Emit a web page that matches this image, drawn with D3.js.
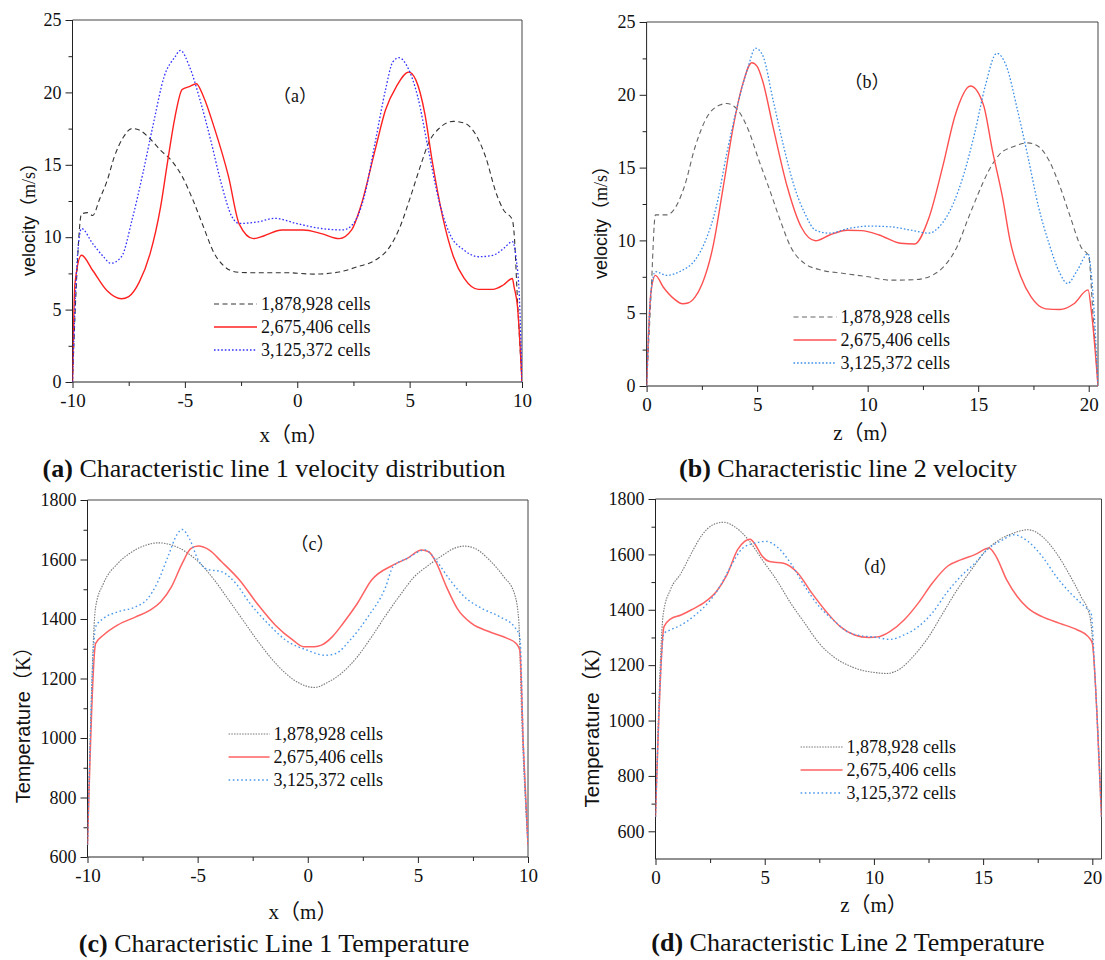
<!DOCTYPE html>
<html>
<head>
<meta charset="utf-8">
<script src="https://cdn.jsdelivr.net/npm/d3@7"></script>
<style>
  html, body { margin: 0; padding: 0; background: #fff; }
  svg { display: block; }
</style>
</head>
<body>
<svg id="fig" width="1105" height="960"></svg>
<script>
// ---- Series labels (mesh sizes) ----
const seriesLabels = ["1,878,928 cells", "2,675,406 cells", "3,125,372 cells"];

// ---- Tick values ----
const xTicksLine1 = [-10, -5, 0, 5, 10];
const zTicksLine2 = [0, 5, 10, 15, 20];
const velTicks = [0, 5, 10, 15, 20, 25];
const tempTicks = [600, 800, 1000, 1200, 1400, 1600, 1800];
const tempTicksD = [600, 800, 1000, 1200, 1400, 1600, 1800];

// ---- (a) velocity along characteristic line 1: [x (m), v (m/s)] ----
const velL1Coarse = [[-10,0],[-9.85,6],[-9.6,11.6],[-9.33,11.7],[-9.1,11.5],[-8.8,12.6],[-8.46,13.9],[-8.14,15.55],[-7.74,16.9],[-7.35,17.5],[-7.03,17.4],[-6.55,16.8],[-6.08,16.0],[-5.6,15.3],[-5.12,14.2],[-4.65,12.6],[-4.17,10.7],[-3.7,8.9],[-3.22,7.95],[-2.74,7.6],[-2.1,7.55],[-0.52,7.55],[0.75,7.45],[1.87,7.6],[2.66,7.95],[3.46,8.4],[4.1,9.3],[4.57,10.7],[5.04,12.8],[5.52,15.1],[5.84,16.5],[6.3,17.5],[6.95,18.0],[7.4,17.9],[7.9,17.2],[8.38,15.55],[8.86,13.0],[9.17,11.9],[9.57,11.2],[9.65,10.25],[9.8,5.6],[10,0]];
const velL1Mid = [[-10,0],[-9.89,6.8],[-9.6,8.75],[-9.1,7.7],[-8.46,6.3],[-7.82,5.75],[-7.5,5.9],[-7.03,6.9],[-6.55,8.85],[-6.08,12.1],[-5.76,15.3],[-5.44,18.3],[-5.12,20.2],[-4.8,20.4],[-4.49,20.6],[-4.17,19.7],[-3.7,17.6],[-3.06,14.2],[-2.58,10.9],[-1.95,9.9],[-1.47,10.1],[-0.68,10.5],[0.28,10.5],[1.07,10.25],[1.87,9.9],[2.42,10.5],[2.82,12.1],[3.46,16.0],[3.93,18.8],[4.41,20.4],[4.96,21.4],[5.28,20.85],[5.68,18.5],[6.0,15.3],[6.47,11.4],[6.95,8.65],[7.43,7.15],[8.06,6.4],[8.7,6.4],[9.17,6.7],[9.57,7.15],[9.65,6.55],[9.8,5.2],[10,0]];
const velL1Fine = [[-10,0],[-9.81,7.95],[-9.6,10.6],[-9.1,9.55],[-8.62,8.65],[-8.3,8.2],[-7.82,8.65],[-7.35,11.2],[-6.87,14.4],[-6.4,17.85],[-5.92,21.1],[-5.44,22.45],[-5.2,22.9],[-4.8,21.8],[-4.33,19.5],[-3.85,16.7],[-3.38,13.7],[-2.9,11.4],[-2.58,10.95],[-1.79,11.05],[-1.0,11.3],[-0.04,10.95],[1.07,10.6],[2.03,10.5],[2.5,10.95],[2.98,12.8],[3.46,16.5],[3.93,20.2],[4.25,22.1],[4.53,22.4],[4.89,21.8],[5.36,19.7],[5.84,16.0],[6.3,12.55],[6.78,10.25],[7.43,9.1],[8.06,8.65],[8.7,8.75],[9.17,9.2],[9.57,9.7],[9.73,8.65],[9.89,5.6],[10,0]];

// ---- (b) velocity along characteristic line 2: [z (m), v (m/s)] ----
const velL2Coarse = [[0,0],[0.19,5.9],[0.4,11.75],[0.91,11.75],[1.23,12.1],[1.71,13.7],[2.19,16.4],[2.67,18.3],[3.31,19.3],[3.63,19.4],[4.1,19.0],[4.6,17.6],[5.08,15.5],[5.56,13.5],[6.04,11.4],[6.52,9.55],[7.16,8.4],[7.8,8.0],[8.92,7.73],[10.04,7.5],[11.0,7.27],[12.12,7.3],[12.92,7.6],[13.56,8.4],[14.04,9.55],[14.52,11.4],[15.0,13.2],[15.48,14.8],[15.96,15.9],[16.6,16.45],[17.25,16.7],[17.73,16.45],[18.2,15.5],[18.7,13.7],[19.17,11.6],[19.65,9.55],[20.0,8.9],[20.2,4.75],[20.42,0]];
const velL2Mid = [[0,0],[0.19,6.35],[0.4,7.6],[0.75,6.8],[1.23,6.0],[1.63,5.65],[1.87,5.7],[2.19,6.1],[2.51,7.0],[3.0,9.55],[3.47,13.7],[3.95,18.05],[4.36,20.8],[4.76,22.2],[5.0,21.95],[5.24,21.0],[5.72,17.8],[6.36,13.7],[7.0,10.9],[7.64,9.98],[8.28,10.37],[9.08,10.7],[9.72,10.67],[10.52,10.37],[11.48,9.8],[12.12,9.75],[12.76,11.5],[13.4,15.1],[13.96,18.6],[14.65,20.6],[15.24,19.3],[15.64,16.2],[16.12,12.8],[16.44,10.0],[16.93,7.5],[17.4,6.1],[18.05,5.3],[18.7,5.25],[19.33,5.65],[19.97,6.6],[20.13,5.0],[20.42,0]];
const velL2Fine = [[0,0],[0.19,6.35],[0.4,7.85],[0.91,7.6],[1.55,7.9],[2.19,8.65],[2.67,10.0],[3.15,12.3],[3.63,16.0],[4.1,19.2],[4.6,21.95],[4.92,23.2],[5.24,22.75],[5.72,19.65],[6.2,16.45],[6.68,13.7],[7.16,11.85],[7.64,10.7],[8.28,10.5],[9.08,10.8],[10.04,10.98],[11.0,10.94],[11.96,10.7],[12.76,10.5],[13.24,10.94],[13.88,12.55],[14.36,14.6],[14.84,17.36],[15.32,20.6],[15.84,22.85],[16.28,21.95],[16.77,19.0],[17.25,15.75],[17.73,12.3],[18.2,9.8],[18.7,7.73],[19.04,7.04],[19.49,7.96],[19.97,9.1],[20.13,7.5],[20.42,0]];

// ---- (c) temperature along characteristic line 1: [x (m), T (K)] ----
const tempL1Coarse = [[-10,640],[-9.63,1441],[-9.27,1520],[-8.62,1587],[-7.97,1626],[-7.32,1649],[-6.76,1656],[-6.19,1649],[-5.54,1626],[-4.89,1587],[-4.24,1531],[-3.59,1464],[-2.94,1396],[-2.3,1329],[-1.65,1267],[-1.0,1217],[-0.35,1183],[0.3,1170],[0.95,1189],[1.6,1222],[2.25,1273],[2.9,1340],[3.55,1413],[4.19,1480],[4.84,1542],[5.49,1581],[6.14,1615],[6.63,1637],[7.11,1645],[7.6,1637],[8.25,1598],[8.9,1542],[9.38,1486],[9.58,1396],[9.71,1082],[10,640]];
const tempL1Mid = [[-10,640],[-9.63,1318],[-9.27,1346],[-8.62,1380],[-7.81,1407],[-7.16,1430],[-6.67,1458],[-6.19,1508],[-5.7,1587],[-5.3,1637],[-4.97,1645],[-4.48,1632],[-3.92,1593],[-3.1,1531],[-2.3,1452],[-1.48,1380],[-0.67,1329],[-0.19,1307],[0.3,1307],[0.62,1312],[1.11,1340],[1.6,1385],[2.25,1452],[2.9,1531],[3.87,1581],[4.52,1604],[5.17,1632],[5.49,1626],[5.81,1593],[6.3,1508],[6.79,1435],[7.44,1385],[8.25,1357],[9.06,1335],[9.46,1318],[9.63,1295],[9.79,970],[10,640]];
const tempL1Fine = [[-10,640],[-9.63,1374],[-9.27,1402],[-8.62,1424],[-7.81,1441],[-7.32,1464],[-6.84,1520],[-6.35,1609],[-5.95,1682],[-5.7,1701],[-5.38,1671],[-4.97,1598],[-4.57,1567],[-3.92,1559],[-3.27,1520],[-2.62,1452],[-1.81,1385],[-1.0,1329],[-0.02,1295],[0.79,1278],[1.27,1284],[1.92,1329],[2.73,1407],[3.54,1508],[3.87,1576],[4.52,1604],[5.33,1632],[5.81,1598],[6.46,1531],[7.11,1475],[7.92,1435],[8.73,1407],[9.38,1374],[9.63,1340],[9.79,970],[10,640]];

// ---- (d) temperature along characteristic line 2: [z (m), T (K)] ----
const tempL2Coarse = [[0,652],[0.36,1388],[0.68,1472],[1.17,1532],[1.65,1605],[2.14,1671],[2.63,1707],[3.11,1716],[3.6,1701],[4.25,1653],[4.89,1580],[5.54,1508],[6.19,1424],[6.84,1351],[7.49,1279],[8.14,1231],[8.78,1201],[9.43,1182],[10.08,1173],[10.57,1170],[11.22,1188],[11.86,1237],[12.51,1303],[13.16,1388],[13.81,1472],[14.46,1544],[15.1,1611],[15.75,1653],[16.4,1677],[17.05,1689],[17.7,1665],[18.35,1605],[19.0,1520],[19.48,1448],[19.89,1375],[20.13,1146],[20.42,664]];
const tempL2Mid = [[0,652],[0.39,1339],[0.68,1366],[1.17,1381],[1.65,1400],[2.3,1430],[2.79,1466],[3.27,1526],[3.76,1617],[4.08,1647],[4.33,1655],[4.57,1635],[4.89,1593],[5.22,1574],[5.87,1568],[6.52,1532],[7.16,1460],[7.81,1394],[8.46,1339],[9.11,1309],[9.76,1300],[10.24,1303],[10.73,1321],[11.38,1363],[12.03,1424],[12.67,1496],[13.4,1559],[13.97,1580],[14.62,1599],[15.27,1623],[15.59,1593],[16.08,1508],[16.56,1448],[17.05,1406],[17.7,1375],[18.51,1351],[19.32,1327],[19.81,1303],[20.0,1279],[20.21,1026],[20.42,652]];
const tempL2Fine = [[0,652],[0.39,1315],[0.68,1327],[1.17,1345],[1.82,1381],[2.46,1430],[2.95,1484],[3.44,1556],[4.0,1623],[4.57,1641],[5.06,1647],[5.54,1629],[6.19,1568],[6.84,1484],[7.49,1412],[8.14,1363],[8.78,1321],[9.43,1306],[10.08,1301],[10.73,1293],[11.38,1309],[12.03,1339],[12.67,1388],[13.32,1460],[13.97,1520],[14.62,1568],[15.27,1623],[15.91,1653],[16.4,1671],[17.05,1647],[17.7,1593],[18.35,1520],[19.0,1460],[19.64,1412],[19.94,1388],[20.13,1146],[20.42,652]];

const SERIF = '"Liberation Serif", "Times New Roman", serif';
const SERIF_CJK = '"Liberation Serif", "Noto Sans CJK SC", serif';
const SANS = '"Liberation Sans", Arial, sans-serif';

const svg = d3.select("#fig");

function drawPanel(p) {
  const g = svg.append("g");
  const x = d3.scaleLinear().domain(p.xDomain).range([p.left, p.right]);
  const y = d3.scaleLinear().domain(p.yDomain).range([p.bottom, p.top]);

  const clipId = "clip-" + p.id;
  svg.append("clipPath").attr("id", clipId)
    .append("rect").attr("x", p.left).attr("y", p.top - 2)
    .attr("width", p.right - p.left).attr("height", p.bottom - p.top + 2);

  // frame: top and right edges
  g.append("path")
    .attr("d", `M${p.left},${p.top}H${p.right}V${p.bottom}`)
    .attr("fill", "none").attr("stroke", "#444").attr("stroke-width", 1);

  // bottom axis with minor ticks
  const xAxis = d3.axisBottom(x).tickValues(p.xTicks).tickSize(6).tickPadding(4)
    .tickFormat(d => String(d));
  const gx = g.append("g").attr("transform", `translate(0,${p.bottom})`).call(xAxis);
  gx.select(".domain").attr("d", `M${p.left},0H${p.right}`).attr("stroke", "#222");
  gx.selectAll(".tick line").attr("stroke", "#222");
  gx.selectAll(".tick text")
    .style("font-family", SERIF).style("font-size", "19px").attr("fill", "#111")
    .attr("dy", "0.8em");
  g.append("g").attr("transform", `translate(0,${p.bottom})`)
    .call(d3.axisBottom(x).tickValues(p.xMinor).tickSize(4).tickFormat(""))
    .call(s => s.select(".domain").remove())
    .selectAll(".tick line").attr("stroke", "#222");

  // left axis with minor ticks
  const yAxis = d3.axisLeft(y).tickValues(p.yTicks).tickSize(7).tickPadding(4)
    .tickFormat(d => String(d));
  const gy = g.append("g").attr("transform", `translate(${p.left},0)`).call(yAxis);
  gy.select(".domain").attr("d", `M0,${p.bottom}V${p.top}`).attr("stroke", "#222");
  gy.selectAll(".tick line").attr("stroke", "#222");
  gy.selectAll(".tick text")
    .style("font-family", SERIF).style("font-size", "18px").attr("fill", "#111");
  g.append("g").attr("transform", `translate(${p.left},0)`)
    .call(d3.axisLeft(y).tickValues(p.yMinor).tickSize(4).tickFormat(""))
    .call(s => s.select(".domain").remove())
    .selectAll(".tick line").attr("stroke", "#222");

  // data lines
  const line = d3.line().x(d => x(d[0])).y(d => y(d[1])).curve(d3.curveMonotoneX);
  const lines = g.append("g").attr("clip-path", `url(#${clipId})`);
  p.series.forEach((s, i) => {
    lines.append("path").datum(s)
      .attr("d", line)
      .attr("fill", "none")
      .attr("stroke", p.styles[i].color)
      .attr("stroke-width", p.styles[i].width)
      .attr("stroke-dasharray", p.styles[i].dash);
  });

  // legend
  const lg = g.append("g");
  seriesLabels.forEach((lab, i) => {
    const yy = p.legend.y + i * p.legend.step;
    lg.append("line")
      .attr("x1", p.legend.x).attr("x2", p.legend.x + p.legend.len)
      .attr("y1", yy).attr("y2", yy)
      .attr("stroke", p.styles[i].color)
      .attr("stroke-width", p.styles[i].width)
      .attr("stroke-dasharray", p.styles[i].dash);
    lg.append("text")
      .attr("x", p.legend.x + p.legend.len + 4).attr("y", yy).attr("dy", "0.35em")
      .style("font-family", SERIF).style("font-size", "18px").attr("fill", "#111")
      .text(lab);
  });

  // panel tag inside the plot
  g.append("text")
    .attr("x", p.tag.x).attr("y", p.tag.y).attr("dy", "0.35em")
    .attr("text-anchor", "middle")
    .style("font-family", SERIF_CJK)
    .style("font-size", "18px").attr("fill", "#111")
    .text(p.tag.text);

  // y-axis title
  const yt = g.append("text")
    .attr("transform", `translate(${p.yTitle.x},${p.yTitle.y}) rotate(-90)`)
    .attr("text-anchor", "middle").attr("dy", "0.35em")
    .style("font-size", p.yTitle.size + "px").attr("fill", "#111");
  yt.append("tspan").style("font-family", SANS).text(p.yTitle.main);
  yt.append("tspan").style("font-family", SERIF_CJK).text(p.yTitle.unit);

  // x-axis title
  g.append("text")
    .attr("x", p.xTitle.x).attr("y", p.xTitle.y).attr("dy", "0.35em")
    .attr("text-anchor", "middle")
    .style("font-family", SERIF_CJK)
    .style("font-size", "21px").attr("fill", "#111")
    .text(p.xTitle.text);

  // caption
  const cap = g.append("text")
    .attr("x", p.caption.x).attr("y", p.caption.y).attr("dy", "0.35em")
    .attr("text-anchor", "middle")
    .style("font-family", SERIF)
    .style("font-size", "26px").attr("fill", "#111");
  cap.append("tspan").style("font-weight", "bold").text(p.caption.tag);
  cap.append("tspan").text(" " + p.caption.text);
}

const halfTicks = (a, b, step) => d3.range(a + step / 2, b, step);

drawPanel({
  id: "a", left: 72.5, right: 522, top: 20, bottom: 382,
  xDomain: [-10, 10], yDomain: [0, 25],
  xTicks: xTicksLine1, xMinor: halfTicks(-10, 10, 5),
  yTicks: velTicks, yMinor: halfTicks(0, 25, 5),
  series: [velL1Coarse, velL1Mid, velL1Fine],
  styles: [
    { color: "#333", width: 1.1, dash: "5,3.5" },
    { color: "#ff2020", width: 1.4, dash: null },
    { color: "#3030ff", width: 1.3, dash: "1.6,2" }
  ],
  legend: { x: 214, y: 304, step: 23, len: 43 },
  tag: { x: 295, y: 96, text: "（a）" },
  yTitle: { x: 29, y: 215, size: 18, main: "velocity", unit: "（m/s）" },
  xTitle: { x: 294, y: 435, text: "x（m）" },
  caption: { x: 274, y: 468, tag: "(a)", text: "Characteristic line 1 velocity distribution" }
});

drawPanel({
  id: "b", left: 646.6, right: 1098, top: 22, bottom: 386,
  xDomain: [0, 20.42], yDomain: [0, 25],
  xTicks: zTicksLine2, xMinor: halfTicks(0, 20, 5),
  yTicks: velTicks, yMinor: halfTicks(0, 25, 5),
  series: [velL2Coarse, velL2Mid, velL2Fine],
  styles: [
    { color: "#666", width: 1.1, dash: "5,3.5" },
    { color: "#ff5050", width: 1.4, dash: null },
    { color: "#3a8ee8", width: 1.3, dash: "1.6,2" }
  ],
  legend: { x: 793.5, y: 317, step: 23, len: 43 },
  tag: { x: 867, y: 82, text: "（b）" },
  yTitle: { x: 601, y: 218, size: 18, main: "velocity", unit: "（m/s）" },
  xTitle: { x: 867, y: 433, text: "z（m）" },
  caption: { x: 848, y: 468, tag: "(b)", text: "Characteristic line 2 velocity" }
});

drawPanel({
  id: "c", left: 87.5, right: 528, top: 500, bottom: 857,
  xDomain: [-10, 10], yDomain: [600, 1800],
  xTicks: xTicksLine1, xMinor: halfTicks(-10, 10, 5),
  yTicks: tempTicks, yMinor: halfTicks(600, 1800, 200),
  series: [tempL1Coarse, tempL1Mid, tempL1Fine],
  styles: [
    { color: "#777", width: 1.1, dash: "1.5,1.2" },
    { color: "#ff6262", width: 1.5, dash: null },
    { color: "#4a98ea", width: 1.4, dash: "1.6,2.6" }
  ],
  legend: { x: 228.6, y: 734, step: 23, len: 41 },
  tag: { x: 312.5, y: 544, text: "（c）" },
  yTitle: { x: 23, y: 720, size: 20, main: "Temperature", unit: "（K）" },
  xTitle: { x: 303, y: 912, text: "x（m）" },
  caption: { x: 274, y: 943, tag: "(c)", text: "Characteristic Line 1 Temperature" }
});

drawPanel({
  id: "d", left: 655.5, right: 1101.5, top: 499, bottom: 859,
  xDomain: [0, 20.42], yDomain: [500, 1800],
  xTicks: zTicksLine2, xMinor: halfTicks(0, 20, 5),
  yTicks: tempTicksD, yMinor: d3.range(700, 1800, 200),
  series: [tempL2Coarse, tempL2Mid, tempL2Fine],
  styles: [
    { color: "#777", width: 1.1, dash: "1.5,1.2" },
    { color: "#ff6262", width: 1.5, dash: null },
    { color: "#4a98ea", width: 1.4, dash: "1.6,2.6" }
  ],
  legend: { x: 800.6, y: 747, step: 23, len: 42 },
  tag: { x: 875, y: 567, text: "（d）" },
  yTitle: { x: 592, y: 722, size: 20.5, main: "Temperature", unit: "（K）" },
  xTitle: { x: 874, y: 905, text: "z（m）" },
  caption: { x: 848, y: 942, tag: "(d)", text: "Characteristic Line 2 Temperature" }
});
</script>
</body>
</html>
